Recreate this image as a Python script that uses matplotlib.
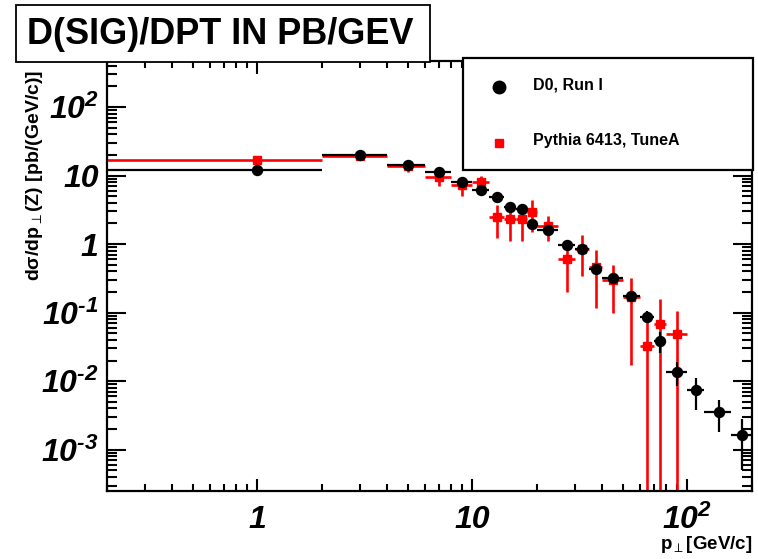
import numpy as np
import matplotlib
matplotlib.use("Agg")
import matplotlib.pyplot as plt
from matplotlib.patches import Rectangle
from matplotlib.lines import Line2D
from matplotlib.ticker import LogLocator, FixedLocator, NullFormatter

plt.rcParams['font.family'] = ['Liberation Sans', 'DejaVu Sans']
plt.rcParams['axes.unicode_minus'] = False
plt.rcParams['mathtext.fontset'] = 'custom'
plt.rcParams['mathtext.rm'] = 'Liberation Sans:bold:italic'
plt.rcParams['mathtext.it'] = 'Liberation Sans:bold:italic'
plt.rcParams['mathtext.bf'] = 'Liberation Sans:bold'
plt.rcParams['mathtext.sf'] = 'DejaVu Sans:bold'

# pT bin edges [GeV/c]
bin_edges = [0, 2, 4, 6, 8, 10, 12, 14, 16, 18, 20, 25, 30, 35, 40, 50, 60, 70, 80, 100, 120, 160, 200]

# D0 Run I
d0_vals = [12.1, 20.0, 14.3, 11.3, 8.1, 6.2, 4.9, 3.5, 3.3, 1.97, 1.61, 0.97, 0.85, 0.43, 0.32,
           0.176, 0.087, 0.039, 0.0138, 0.0075, 0.0036, 0.00165]
d0_errs = [0.3, 0.5, 0.4, 0.3, 0.3, 0.25, 0.25, 0.2, 0.2, 0.3, 0.2, 0.08, 0.08, 0.05, 0.03,
           0.02, 0.017, 0.013, 0.0052, 0.0037, 0.0018, 0.00114]

# Pythia 6413, TuneA
py_vals = [16.9, 19.5, 13.8, 9.6, 7.3, 8.1, 2.5, 2.33, 2.33, 2.95, 1.84, 0.61, 0.85, 0.466, 0.30,
           0.17, 0.033, 0.069, 0.049]
py_errs = [0.4, 1.0, 2.4, 2.6, 2.2, 1.7, 1.27, 1.24, 1.24, 1.43, 0.72, 0.41, 0.51, 0.35, 0.2,
           0.153, 0.067, 0.09, 0.057]

x_ticks = [1, 10, 100]
x_ticklabels = ['1', '10', r'$\mathregular{10^{2}}$']
y_ticks = [1e-3, 1e-2, 1e-1, 1, 10, 100]
y_ticklabels = [r'$\mathregular{10^{\text{-}3}}$', r'$\mathregular{10^{\text{-}2}}$',
                r'$\mathregular{10^{\text{-}1}}$', '1', '10', r'$\mathregular{10^{2}}$']

edges = np.array(bin_edges, dtype=float)
centers = 0.5 * (edges[:-1] + edges[1:])
xlo = centers - edges[:-1]
xhi = edges[1:] - centers

fig = plt.figure(figsize=(7.58, 5.59), dpi=100)
W, H = 758, 559
ax = fig.add_axes([107 / W, 1 - 491 / H, (752 - 107) / W, (491 - 61) / H])
ax.set_xscale('log', nonpositive='clip')
ax.set_yscale('log', nonpositive='clip')

n = len(py_vals)
pv = np.array(py_vals)
pe = np.array(py_errs)
p_low = pv - np.maximum(pv - pe, 1e-9)
ax.errorbar(centers[:n], pv, xerr=[xlo[:n], xhi[:n]], yerr=[p_low, pe],
            fmt='s', color='red', ms=6.2, elinewidth=1.9, capsize=0, zorder=2)

dv = np.array(d0_vals)
de = np.array(d0_errs)
ax.errorbar(centers, dv, xerr=[xlo, xhi], yerr=[de, de],
            fmt='o', color='black', ms=7.2, elinewidth=1.6, capsize=0, zorder=3)

ax.set_xlim(0.2, 200)
ax.set_ylim(2.5e-4, 468)

ax.xaxis.set_major_locator(FixedLocator(x_ticks))
ax.set_xticklabels(x_ticklabels)
ax.xaxis.set_minor_locator(LogLocator(base=10, subs=np.arange(2, 10)))
ax.xaxis.set_minor_formatter(NullFormatter())
ax.yaxis.set_major_locator(FixedLocator(y_ticks))
ax.set_yticklabels(y_ticklabels)
ax.yaxis.set_minor_locator(LogLocator(base=10, subs=np.arange(2, 10), numticks=20))
ax.yaxis.set_minor_formatter(NullFormatter())

ax.tick_params(axis='both', which='both', direction='in', top=True, right=True, width=1.5)
ax.tick_params(axis='x', which='major', length=9, pad=10)
ax.tick_params(axis='x', which='minor', length=5)
ax.tick_params(axis='y', which='major', length=14, pad=6)
ax.tick_params(axis='y', which='minor', length=7)
for lab in ax.get_xticklabels() + ax.get_yticklabels():
    lab.set_fontsize(23)
    lab.set_fontweight('bold')
    lab.set_fontstyle('italic')
for sp in ax.spines.values():
    sp.set_linewidth(1.6)

# axis titles
fig.text(35 / W, 1 - 70 / H, r'd$\mathregular{\sigma}$/dp$_{\mathsf{\perp}}$(Z) [pb/(GeV/c)]',
         rotation=90, ha='center', va='top', fontsize=14, fontweight='bold')
fig.text(752 / W, 1 - 549 / H, r'p$_{\mathsf{\perp}}$[GeV/c]',
         ha='right', va='baseline', fontsize=13.5, fontweight='bold')

# title box
fig.add_artist(Rectangle((16 / W, 1 - 62 / H), (430 - 16) / W, (62 - 5) / H,
                         transform=fig.transFigure, facecolor='white', edgecolor='black',
                         lw=1.3, zorder=5))
fig.text(27 / W, 1 - 34 / H, 'D(SIG)/DPT IN PB/GEV', ha='left', va='center',
         fontsize=26, fontweight='bold', zorder=6)

# legend box
fig.add_artist(Rectangle((463 / W, 1 - 170 / H), (753 - 463) / W, (170 - 58) / H,
                         transform=fig.transFigure, facecolor='white', edgecolor='black',
                         lw=1.6, zorder=5))
fig.add_artist(Line2D([499 / W], [1 - 87 / H], transform=fig.transFigure, marker='o',
                      color='black', ms=9, ls='none', zorder=6))
fig.add_artist(Line2D([499 / W], [1 - 143 / H], transform=fig.transFigure, marker='s',
                      color='red', ms=6.2, ls='none', zorder=6))
fig.text(533 / W, 1 - 85 / H, 'D0, Run I', ha='left', va='center', fontsize=11.5,
         fontweight='bold', zorder=6)
fig.text(533 / W, 1 - 141 / H, 'Pythia 6413, TuneA', ha='left', va='center', fontsize=11.5,
         fontweight='bold', zorder=6)

plt.savefig('out.png', dpi=100)
plt.close()
